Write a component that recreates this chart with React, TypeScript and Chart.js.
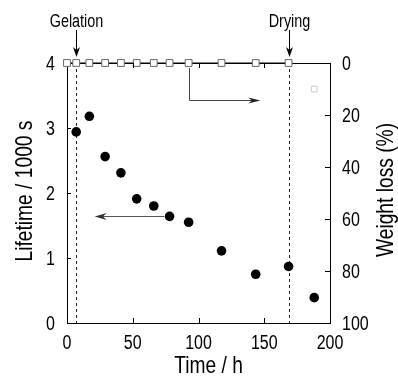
import React, { useEffect, useRef } from "react";
import { Chart, registerables } from "chart.js";

Chart.register(...registerables);

// ---- data ----
const lifetimeTimes = [7, 17, 29, 41, 53, 66, 78, 92.5, 117.5, 143.5, 168.5, 188];
const lifetimeValues = [2.94, 3.18, 2.56, 2.31, 1.91, 1.8, 1.64, 1.55, 1.11, 0.75, 0.87, 0.39];
const weightTimes = [0, 7, 17, 29, 41, 53, 66, 78, 92.5, 117.5, 143.5, 168.5];
const weightValues = [0, 0, 0, 0, 0, 0, 0, 0, 0, 0, 0, 0];
const faintTimes = [188];
const faintValues = [10];
const xTickValues = [0, 50, 100, 150, 200];
const yTickValues = [0, 1, 2, 3, 4];
const y2TickValues = [0, 20, 40, 60, 80, 100];
const events = [
  { label: "Gelation", time: 7 },
  { label: "Drying", time: 168.5 },
];
// arrows in data units
const weightArrow = { fromTime: 92.5, cornerWeight: 14.2, toTime: 147 };
const lifetimeArrow = { fromTime: 77.8, value: 1.64, toTime: 21 };

const FAMILY = '"Liberation Sans", Arial, sans-serif';
const CONDENSE = 0.8;

function arrowHead(ctx: CanvasRenderingContext2D, x: number, y: number, ang: number, len = 10, half = 3) {
  ctx.save();
  ctx.translate(x, y);
  ctx.rotate(ang);
  ctx.beginPath();
  ctx.moveTo(0, 0);
  ctx.lineTo(-len, -half);
  ctx.lineTo(-len * 0.7, 0);
  ctx.lineTo(-len, half);
  ctx.closePath();
  ctx.fill();
  ctx.restore();
}

// condensed text: draws text at (x, y) with rotation, squeezed along the text direction
function text(
  ctx: CanvasRenderingContext2D,
  s: string,
  x: number,
  y: number,
  size: number,
  align: CanvasTextAlign,
  baseline: CanvasTextBaseline,
  rot = 0
) {
  ctx.save();
  ctx.translate(x, y);
  if (rot) ctx.rotate(rot);
  ctx.scale(CONDENSE, 1);
  ctx.font = `${size}px ${FAMILY}`;
  ctx.textAlign = align;
  ctx.textBaseline = baseline;
  ctx.fillText(s, 0, 0);
  ctx.restore();
}

const decorPlugin = {
  id: "decor",
  beforeDatasetsDraw(chart: any) {
    const { ctx, chartArea, scales } = chart;
    const { top, bottom } = chartArea;
    ctx.save();
    ctx.strokeStyle = "#222";
    ctx.lineWidth = 1;
    ctx.setLineDash([3, 3]);
    events.forEach((e) => {
      const px = Math.round(scales.x.getPixelForValue(e.time)) + 0.5;
      ctx.beginPath();
      ctx.moveTo(px, top);
      ctx.lineTo(px, bottom);
      ctx.stroke();
    });
    ctx.restore();
  },
  afterDraw(chart: any) {
    const { ctx, chartArea, scales } = chart;
    const { left, right, top, bottom } = chartArea;
    const { x, y, y2 } = scales;
    ctx.save();
    ctx.strokeStyle = "#000";
    ctx.fillStyle = "#000";
    ctx.lineWidth = 1;
    const line = (x1: number, y1: number, x2: number, y2_: number) => {
      ctx.beginPath();
      ctx.moveTo(x1, y1);
      ctx.lineTo(x2, y2_);
      ctx.stroke();
    };
    // inward ticks + tick labels
    x.ticks.forEach((t: any) => {
      const px = x.getPixelForValue(t.value);
      text(ctx, String(t.value), px, bottom + 26, 20, "center", "alphabetic");
      if (t.value <= x.min || t.value >= x.max) return;
      const rp = Math.round(px) + 0.5;
      line(rp, bottom, rp, bottom - 5);
      line(rp, top, rp, top + 5);
    });
    y.ticks.forEach((t: any) => {
      const py = y.getPixelForValue(t.value);
      text(ctx, String(t.value), left - 12, py + 7, 20, "right", "alphabetic");
      if (t.value <= y.min || t.value >= y.max) return;
      const rp = Math.round(py) + 0.5;
      line(left, rp, left + 4, rp);
    });
    y2.ticks.forEach((t: any) => {
      const py = y2.getPixelForValue(t.value);
      text(ctx, String(t.value), right + 12, py + 7, 20, "left", "alphabetic");
      if (t.value <= y2.min || t.value >= y2.max) return;
      const rp = Math.round(py) + 0.5;
      line(right, rp, right - 5, rp);
    });

    // event labels + down arrows
    events.forEach((e) => {
      const px = Math.round(x.getPixelForValue(e.time)) + 0.5;
      text(ctx, e.label, px, top - 36, 18, "center", "alphabetic");
      line(px, top - 33, px, top - 9);
      arrowHead(ctx, px, top - 6, Math.PI / 2, 10, 3.5);
    });

    // weight arrow (to right axis)
    ctx.strokeStyle = "#444";
    ctx.fillStyle = "#222";
    const wx = Math.round(x.getPixelForValue(weightArrow.fromTime)) + 0.5;
    const wy0 = y2.getPixelForValue(0) + 5;
    const wy = Math.round(y2.getPixelForValue(weightArrow.cornerWeight)) + 0.5;
    const wx2 = x.getPixelForValue(weightArrow.toTime);
    ctx.beginPath();
    ctx.moveTo(wx, wy0);
    ctx.lineTo(wx, wy);
    ctx.lineTo(wx2 - 6, wy);
    ctx.stroke();
    arrowHead(ctx, wx2, wy, 0, 12, 3);

    // lifetime arrow (to left axis)
    const lx = x.getPixelForValue(lifetimeArrow.fromTime) - 5;
    const ly = Math.round(y.getPixelForValue(lifetimeArrow.value)) + 0.5;
    const lx2 = x.getPixelForValue(lifetimeArrow.toTime);
    ctx.strokeStyle = "#555";
    ctx.beginPath();
    ctx.moveTo(lx, ly);
    ctx.lineTo(lx2 + 6, ly);
    ctx.stroke();
    ctx.fillStyle = "#333";
    arrowHead(ctx, lx2, ly, Math.PI, 12, 3.5);

    // axis titles
    ctx.fillStyle = "#000";
    text(ctx, "Lifetime / 1000 s", left - 42, (top + bottom) / 2 - 2, 24, "center", "middle", -Math.PI / 2);
    text(ctx, "Weight loss (%)", right + 56, (top + bottom) / 2 - 3, 24, "center", "middle", -Math.PI / 2);
    text(ctx, "Time / h", (left + right) / 2 + 10, 373, 24, "center", "alphabetic");
    ctx.restore();
  },
};

export default function App() {
  const ref = useRef<HTMLCanvasElement | null>(null);
  useEffect(() => {
    if (!ref.current) return;
    const border = { display: true, color: "#000", width: 1 };
    const chart = new Chart(ref.current, {
      type: "scatter",
      data: {
        datasets: [
          {
            label: "Weight loss",
            data: weightTimes.map((t, i) => ({ x: t, y: weightValues[i] })),
            yAxisID: "y2",
            xAxisID: "x",
            showLine: true,
            borderColor: "#000",
            borderWidth: 1,
            pointStyle: "rect",
            pointRadius: 4.8,
            pointBackgroundColor: "#fff",
            pointBorderColor: "#666",
            pointBorderWidth: 1,
            clip: false,
          } as any,
          {
            label: "faint",
            data: faintTimes.map((t, i) => ({ x: t, y: faintValues[i] })),
            yAxisID: "y2",
            xAxisID: "x",
            pointStyle: "rect",
            pointRadius: 4,
            pointBackgroundColor: "rgba(255,255,255,0)",
            pointBorderColor: "#ccc",
            pointBorderWidth: 1,
            clip: false,
          } as any,
          {
            label: "Lifetime",
            data: lifetimeTimes.map((t, i) => ({ x: t, y: lifetimeValues[i] })),
            yAxisID: "y",
            xAxisID: "x",
            pointStyle: "circle",
            pointRadius: 4.8,
            pointBackgroundColor: "#000",
            pointBorderColor: "#000",
            pointBorderWidth: 0,
            clip: false,
          } as any,
        ],
      },
      options: {
        responsive: false,
        animation: false,
        devicePixelRatio: 1,
        layout: { padding: 0 },
        plugins: { legend: { display: false }, tooltip: { enabled: false } },
        scales: {
          x: {
            type: "linear",
            position: "bottom",
            min: 0,
            max: 200,
            afterBuildTicks: (s: any) => {
              s.ticks = xTickValues.map((v) => ({ value: v }));
            },
            ticks: { display: false },
            grid: { display: false, drawTicks: false },
            border,
            afterFit: (s: any) => {
              s.height = 53;
            },
          },
          x2: {
            type: "linear",
            position: "top",
            min: 0,
            max: 200,
            ticks: { display: false },
            grid: { display: false, drawTicks: false },
            border,
            afterFit: (s: any) => {
              s.height = 63;
            },
          },
          y: {
            type: "linear",
            position: "left",
            min: 0,
            max: 4,
            afterBuildTicks: (s: any) => {
              s.ticks = yTickValues.map((v) => ({ value: v }));
            },
            ticks: { display: false },
            grid: { display: false, drawTicks: false },
            border,
            afterFit: (s: any) => {
              s.width = 67;
            },
          },
          y2: {
            type: "linear",
            position: "right",
            min: 0,
            max: 100,
            reverse: true,
            afterBuildTicks: (s: any) => {
              s.ticks = y2TickValues.map((v) => ({ value: v }));
            },
            ticks: { display: false },
            grid: { display: false, drawTicks: false },
            border,
            afterFit: (s: any) => {
              s.width = 68;
            },
          },
        },
      } as any,
      plugins: [decorPlugin],
    });
    return () => chart.destroy();
  }, []);
  return (
    <div style={{ position: "fixed", left: 0, top: 0, width: 398, height: 376, background: "#fff" }}>
      <canvas ref={ref} width={398} height={376} style={{ width: 398, height: 376, display: "block" }} />
    </div>
  );
}
